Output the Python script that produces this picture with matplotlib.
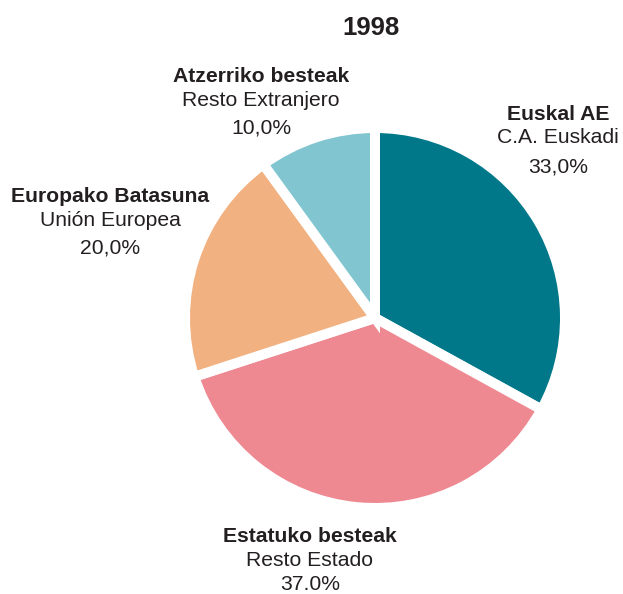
import matplotlib.pyplot as plt

# data
labels_eu = ["Euskal AE", "Estatuko besteak", "Europako Batasuna", "Atzerriko besteak"]
labels_es = ["C.A. Euskadi", "Resto Estado", "Unión Europea", "Resto Extranjero"]
pct_text = ["33,0%", "37.0%", "20,0%", "10,0%"]
shares = [33.0, 37.0, 20.0, 10.0]
colors = ["#00788a", "#ee8992", "#f2b180", "#80c5d0"]

plt.rcParams['font.family'] = ['Liberation Sans', 'DejaVu Sans']

W, H = 623, 594
fig = plt.figure(figsize=(W / 100, H / 100), dpi=100)

# pie axes, placed in pixel terms
cx, cy, r = 375, 318, 190
ax = fig.add_axes([(cx - r) / W, (H - cy - r) / H, 2 * r / W, 2 * r / H])
ax.pie(shares, colors=colors, startangle=90, counterclock=False, radius=1,
       wedgeprops=dict(edgecolor="white", linewidth=7.2))
ax.set_xlim(-1, 1)
ax.set_ylim(-1, 1)
ax.set_aspect("equal")
ax.axis("off")

fig.text(371 / W, 1 - 28 / H, "1998", ha="center", va="center",
         fontsize=18.5, fontweight="bold", color="#231f20")

# label anchor (x center, y of first line, gap to last line) in pixels
label_pos = [(558, 114, 53), (310, 537, 48), (110, 197, 51), (261, 77, 51)]
for (x, y, g), eu, es, p in zip(label_pos, labels_eu, labels_es, pct_text):
    fig.text(x / W, 1 - y / H, eu, ha="center", va="center",
             fontsize=15.2, fontweight="bold", color="#231f20")
    fig.text(x / W, 1 - (y + 24) / H, es, ha="center", va="center",
             fontsize=15.2, color="#231f20")
    fig.text(x / W, 1 - (y + g) / H, p, ha="center", va="center",
             fontsize=15.2, color="#231f20")

fig.savefig("out.png", dpi=100)
